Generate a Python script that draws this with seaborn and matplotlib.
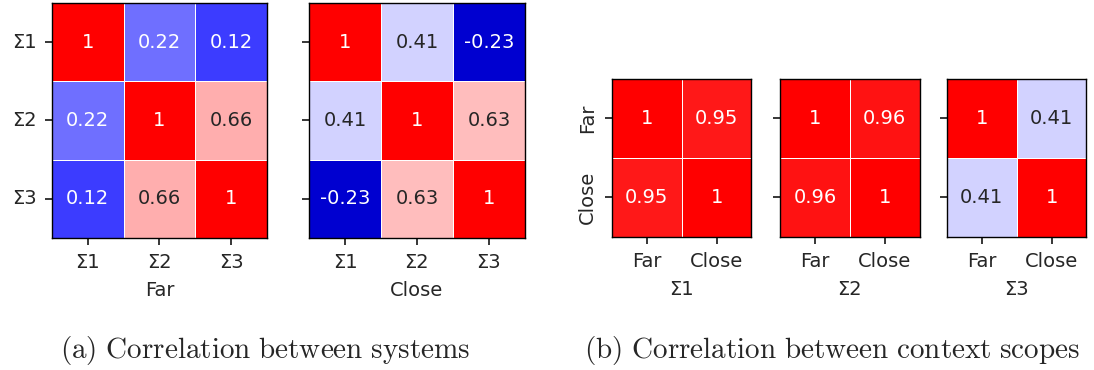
import matplotlib
matplotlib.use("Agg")
import matplotlib.pyplot as plt
import seaborn as sns
import pandas as pd
from matplotlib.colors import LinearSegmentedColormap

# values
systems = ["Σ1", "Σ2", "Σ3"]
far_corr = [[1, 0.22, 0.12],
            [0.22, 1, 0.66],
            [0.12, 0.66, 1]]
close_corr = [[1, 0.41, -0.23],
              [0.41, 1, 0.63],
              [-0.23, 0.63, 1]]
scopes = ["Far", "Close"]
scope_corr = {"Σ1": 0.95, "Σ2": 0.96, "Σ3": 0.41}

sns.set_style("ticks")
plt.rcParams["font.family"] = ["DejaVu Sans"]
plt.rcParams["font.size"] = 14
plt.rcParams["mathtext.fontset"] = "cm"

# blue -> white -> red, with a darker blue below zero
cmap = LinearSegmentedColormap.from_list(
    "corr", [(0, (0, 0, 0.6)), (1 / 3, (0, 0, 1)), (2 / 3, (1, 1, 1)), (1, (1, 0, 0))])


def draw(ax, data, labels, xlabel, show_y, rot):
    df = pd.DataFrame(data, index=labels, columns=labels)
    sns.heatmap(df, ax=ax, cmap=cmap, vmin=-0.5, vmax=1, annot=True, cbar=False,
                linewidths=0.5, linecolor="white", annot_kws={"fontsize": 14})
    for sp in ax.spines.values():
        sp.set_visible(True)
        sp.set_linewidth(1.0)
        sp.set_color("black")
    ax.set_xlabel(xlabel, fontsize=14, labelpad=6)
    ax.set_ylabel("")
    ax.tick_params(axis="both", length=5, width=1.1, pad=6, labelsize=14, color="black")
    ax.set_xticklabels(labels, rotation=0)
    ax.set_yticklabels(labels, rotation=rot, va="center")
    if not show_y:
        ax.tick_params(axis="y", labelleft=False)


fig = plt.figure(figsize=(10.94, 3.7), dpi=100)

ax1 = fig.add_axes([0.0475, 0.357, 0.1965, 0.635])
draw(ax1, far_corr, systems, "Far", True, 0)
ax2 = fig.add_axes([0.2824, 0.357, 0.1974, 0.635])
draw(ax2, close_corr, systems, "Close", False, 0)

lefts = [0.5594, 0.713, 0.8656]
for i, s in enumerate(systems):
    c = scope_corr[s]
    ax = fig.add_axes([lefts[i], 0.3595, 0.1275, 0.427])
    draw(ax, [[1, c], [c, 1]], scopes, s, i == 0, 90)

fig.text(0.242, 0.052, r"$\mathrm{(a)\ Correlation\ between\ systems}$",
         ha="center", va="center", fontsize=21)
fig.text(0.761, 0.052, r"$\mathrm{(b)\ Correlation\ between\ context\ scopes}$",
         ha="center", va="center", fontsize=21)

fig.savefig("out.png", dpi=100)
